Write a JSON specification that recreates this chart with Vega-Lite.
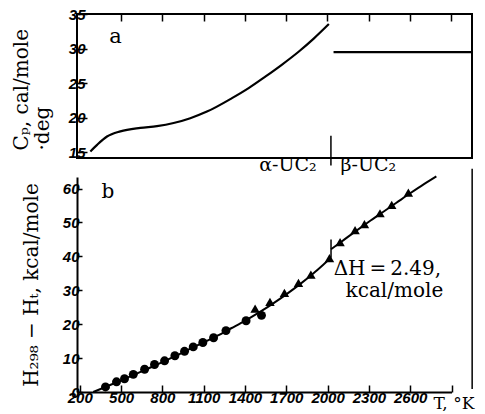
{
  "$schema": "https://vega.github.io/schema/vega-lite/v6.json",
  "background": "white",
  "padding": {"left": 9, "top": 6, "right": 0, "bottom": 0},
  "spacing": -8,
  "datasets": {
    "cpAlpha": [
      {"T": 277, "Cp": 15.15}, {"T": 326, "Cp": 16.1}, {"T": 398, "Cp": 17.3}, {"T": 495, "Cp": 18.05},
      {"T": 640, "Cp": 18.55}, {"T": 761, "Cp": 18.8}, {"T": 882, "Cp": 19.25}, {"T": 1003, "Cp": 19.95},
      {"T": 1124, "Cp": 20.9}, {"T": 1306, "Cp": 22.85}, {"T": 1427, "Cp": 24.3}, {"T": 1548, "Cp": 25.95},
      {"T": 1670, "Cp": 27.7}, {"T": 1790, "Cp": 29.55}, {"T": 1900, "Cp": 31.45}, {"T": 2010, "Cp": 33.55}
    ],
    "cpBeta": [{"T": 2044, "Cp": 29.5}, {"T": 3050, "Cp": 29.5}],
    "topRule": [{"T": 2025, "Cp": 17.4, "Cp2": 13.1}],
    "topText": [
      {"T": 460, "Cp": 31.7, "label": "a", "size": 21},
      {"T": 1713, "Cp": 13.2, "label": "α-UC₂", "size": 19},
      {"T": 2297, "Cp": 13.2, "label": "β-UC₂", "size": 19}
    ],
    "hLine": [
      {"T": 298, "H": 0, "phase": "a"}, {"T": 400, "H": 1.7, "phase": "a"}, {"T": 500, "H": 3.4, "phase": "a"},
      {"T": 600, "H": 5.2, "phase": "a"}, {"T": 700, "H": 7.0, "phase": "a"}, {"T": 800, "H": 8.8, "phase": "a"},
      {"T": 900, "H": 10.7, "phase": "a"}, {"T": 1000, "H": 12.7, "phase": "a"}, {"T": 1100, "H": 14.6, "phase": "a"},
      {"T": 1200, "H": 16.6, "phase": "a"}, {"T": 1300, "H": 18.8, "phase": "a"}, {"T": 1400, "H": 21.0, "phase": "a"},
      {"T": 1500, "H": 23.4, "phase": "a"}, {"T": 1600, "H": 26.0, "phase": "a"}, {"T": 1700, "H": 28.8, "phase": "a"},
      {"T": 1800, "H": 31.8, "phase": "a"}, {"T": 1900, "H": 35.1, "phase": "a"}, {"T": 2000, "H": 38.7, "phase": "a"},
      {"T": 2025, "H": 39.6, "phase": "a"},
      {"T": 2025, "H": 42.1, "phase": "b"}, {"T": 2100, "H": 44.3, "phase": "b"}, {"T": 2200, "H": 47.3, "phase": "b"},
      {"T": 2300, "H": 50.2, "phase": "b"}, {"T": 2400, "H": 53.0, "phase": "b"}, {"T": 2500, "H": 55.8, "phase": "b"},
      {"T": 2600, "H": 58.6, "phase": "b"}, {"T": 2700, "H": 61.3, "phase": "b"}, {"T": 2790, "H": 63.6, "phase": "b"}
    ],
    "circles": [
      {"T": 387, "H": 1.5}, {"T": 467, "H": 3.0}, {"T": 525, "H": 3.9}, {"T": 589, "H": 5.2}, {"T": 671, "H": 6.7},
      {"T": 743, "H": 8.1}, {"T": 816, "H": 9.2}, {"T": 891, "H": 10.7}, {"T": 961, "H": 12.0}, {"T": 1024, "H": 13.3},
      {"T": 1094, "H": 14.6}, {"T": 1172, "H": 16.0}, {"T": 1262, "H": 18.1}, {"T": 1408, "H": 21.0}, {"T": 1520, "H": 22.6}
    ],
    "triangles": [
      {"T": 1465, "H": 24.0}, {"T": 1573, "H": 26.0}, {"T": 1678, "H": 28.6}, {"T": 1780, "H": 31.6},
      {"T": 1870, "H": 34.0}, {"T": 2005, "H": 38.9}, {"T": 2082, "H": 43.6}, {"T": 2191, "H": 47.1},
      {"T": 2259, "H": 48.9}, {"T": 2372, "H": 52.1}, {"T": 2457, "H": 54.6}, {"T": 2578, "H": 58.2}
    ],
    "bottomRules": [
      {"T": 2025, "H": 39.6, "H2": 45.0},
      {"T": 3050, "H": 0.9, "H2": 65.8}
    ],
    "bottomText": [
      {"T": 358, "H": 59, "label": "b"},
      {"T": 2044, "H": 36.3, "label": "ΔH\u2009=\u20092.49,"},
      {"T": 2131, "H": 29.8, "label": "kcal/mole"}
    ]
  },
  "config": {
    "font": "DejaVu Serif",
    "axis": {
      "labelFont": "Liberation Sans",
      "labelFontStyle": "italic",
      "labelFontWeight": "bold",
      "labelFontSize": 15,
      "labelColor": "black",
      "labelFlush": false,
      "labelOverlap": false,
      "format": "d",
      "titleFont": "DejaVu Serif",
      "titleFontWeight": "normal",
      "titleFontSize": 20,
      "titleColor": "black",
      "domainColor": "black",
      "domainWidth": 2,
      "tickColor": "black",
      "tickWidth": 1.5,
      "grid": false
    }
  },
  "vconcat": [
    {
      "width": 395,
      "height": 144,
      "view": {"stroke": "black", "strokeWidth": 2},
      "encoding": {
        "x": {
          "field": "T", "type": "quantitative",
          "scale": {"domain": [180, 3050], "nice": false, "zero": false},
          "axis": {"orient": "top", "values": [500, 800, 1100, 1400, 1700, 2000, 2300, 2600, 2900], "labels": false, "tickSize": -7, "domain": false, "title": null}
        },
        "y": {
          "field": "Cp", "type": "quantitative",
          "scale": {"domain": [14.2, 35], "nice": false, "zero": false},
          "axis": {
            "values": [15, 20, 25, 30, 35], "tickSize": -10, "domain": false, "labelPadding": 2,
            "title": ["Cₚ, cal/mole", "\u00a0\u00a0\u00a0\u00a0·deg"],
            "titleAngle": 270, "titleAlign": "left", "titleBaseline": "middle",
            "titleX": -56, "titleY": 136, "titleLineHeight": 21
          }
        }
      },
      "layer": [
        {"data": {"name": "cpAlpha"}, "mark": {"type": "line", "color": "black", "strokeWidth": 2.2, "interpolate": "monotone"}},
        {"data": {"name": "cpBeta"}, "mark": {"type": "line", "color": "black", "strokeWidth": 2.2}},
        {"data": {"name": "topRule"}, "mark": {"type": "rule", "color": "black", "strokeWidth": 1.5},
         "encoding": {"y2": {"field": "Cp2"}}},
        {"data": {"name": "topText"}, "mark": {"type": "text", "font": "DejaVu Serif", "color": "black", "baseline": "middle"},
         "encoding": {"text": {"field": "label"}, "size": {"field": "size", "type": "quantitative", "scale": null}}}
      ]
    },
    {
      "width": 374.5,
      "height": 215,
      "view": {"stroke": null},
      "encoding": {
        "x": {
          "field": "T", "type": "quantitative",
          "scale": {"domain": [180, 2900], "nice": false, "zero": false},
          "axis": {
            "values": [200, 500, 800, 1100, 1400, 1700, 2000, 2300, 2600, 2900],
            "labelExpr": "datum.value == 2900 ? '' : datum.label",
            "tickSize": -7, "labelPadding": 5,
            "title": "T, °K", "titleFontSize": 17, "titleX": 356, "titleY": 11, "titleAlign": "left", "titleBaseline": "middle"
          }
        },
        "y": {
          "field": "H", "type": "quantitative",
          "scale": {"domain": [0, 63.4], "nice": false, "zero": false},
          "axis": {
            "values": [0, 10, 20, 30, 40, 50, 60], "tickSize": -5, "labelPadding": 3,
            "title": "H₂₉₈ − Hₜ, kcal/mole",
            "titleAngle": 270, "titleBaseline": "middle", "titleX": -46
          }
        }
      },
      "layer": [
        {"data": {"name": "hLine"}, "mark": {"type": "line", "color": "black", "strokeWidth": 2, "interpolate": "monotone"},
         "encoding": {"detail": {"field": "phase"}}},
        {"data": {"name": "circles"}, "mark": {"type": "point", "shape": "circle", "filled": true, "color": "black", "opacity": 1, "size": 80}},
        {"data": {"name": "triangles"}, "mark": {"type": "point", "shape": "triangle-left", "filled": true, "color": "black", "opacity": 1, "size": 90, "angle": -30}},
        {"data": {"name": "bottomRules"}, "mark": {"type": "rule", "color": "black", "strokeWidth": 1.5},
         "encoding": {"y2": {"field": "H2"}}},
        {"data": {"name": "bottomText"}, "mark": {"type": "text", "font": "DejaVu Serif", "fontSize": 20, "color": "black", "baseline": "middle", "align": "left"},
         "encoding": {"text": {"field": "label"}}}
      ]
    }
  ]
}
